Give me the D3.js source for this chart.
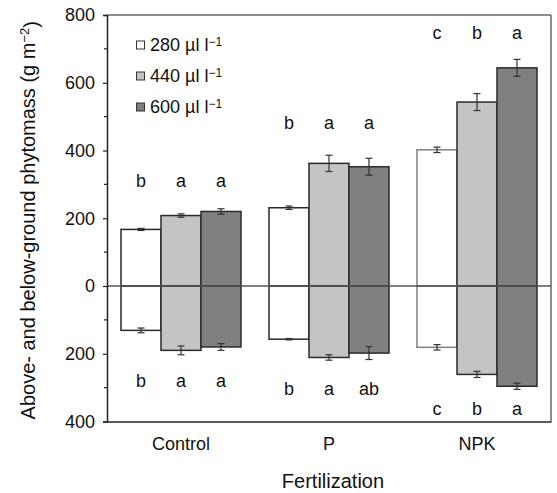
<!DOCTYPE html>
<html>
<head>
<meta charset="utf-8">
<script src="https://cdn.jsdelivr.net/npm/d3@7"></script>
<style>
  body { margin: 0; background: #fff; }
  text { font-family: "Liberation Sans", Arial, sans-serif; fill: #111; }
</style>
</head>
<body>
<div id="chart"></div>
<script>
const groups = ["Control", "P", "NPK"];
const seriesNames = ["280 µl l", "440 µl l", "600 µl l"];

// above-ground (positive) and below-ground (drawn downward) phytomass, g m-2
const above = [[167, 208, 220], [231, 362, 352], [402, 543, 644]];
const aboveErr = [[3, 5, 8], [5, 24, 25], [8, 25, 25]];
const below = [[131, 190, 180], [157, 211, 198], [181, 261, 296]];
const belowErr = [[7, 13, 10], [2, 8, 19], [8, 9, 9]];

const aboveLetters = [["b", "a", "a"], ["b", "a", "a"], ["c", "b", "a"]];
const belowLetters = [["b", "a", "a"], ["b", "a", "ab"], ["c", "b", "a"]];
const aboveLetterY = [312, 483, 747];
const belowLetterY = [279, 302, 361];

const yTicks = [-400, -200, 0, 200, 400, 600, 800];
const yMinor = [-300, -100, 100, 300, 500, 700];

const fills = ["#ffffff", "#c4c4c4", "#808080"];

const W = 557, H = 493;
const margin = { top: 15, right: 6, bottom: 71.5, left: 107 };
const width = W - margin.left - margin.right;
const height = H - margin.top - margin.bottom;

const svg = d3.select("#chart").append("svg")
  .attr("width", W)
  .attr("height", H);

const g = svg.append("g")
  .attr("transform", `translate(${margin.left},${margin.top})`);

let x = d3.scaleBand()
  .domain(groups)
  .range([0, width]);

let xs = d3.scaleBand()
  .domain(d3.range(3))
  .range([(x.bandwidth() - 120) / 2, (x.bandwidth() + 120) / 2]);

let y = d3.scaleLinear()
  .domain([-400, 800])
  .range([height, 0]);

// frame (top/right)
g.append("line").attr("x1", 0).attr("x2", width).attr("y1", 0).attr("y2", 0)
  .attr("stroke", "#666").attr("stroke-width", 1.5);
g.append("line").attr("x1", width).attr("x2", width).attr("y1", 0).attr("y2", height)
  .attr("stroke", "#666").attr("stroke-width", 1.5);

const cells = [];
groups.forEach((grp, i) => {
  for (let j = 0; j < 3; j++) {
    cells.push({ grp: grp, i: i, j: j, up: above[i][j], upE: aboveErr[i][j],
      down: below[i][j], downE: belowErr[i][j] });
  }
});

const barStroke = d => (d.grp === "NPK" && d.j === 0) ? "#808080" : "#2a2a2a";

// above bars
g.selectAll("rect.up").data(cells).enter().append("rect")
  .attr("class", "up")
  .attr("x", d => x(d.grp) + xs(d.j))
  .attr("width", xs.bandwidth())
  .attr("y", d => y(d.up))
  .attr("height", d => y(0) - y(d.up))
  .style("fill", d => fills[d.j])
  .style("stroke", barStroke)
  .style("stroke-width", 1.5);

// below bars
g.selectAll("rect.down").data(cells).enter().append("rect")
  .attr("class", "down")
  .attr("x", d => x(d.grp) + xs(d.j))
  .attr("width", xs.bandwidth())
  .attr("y", y(0))
  .attr("height", d => y(-d.down) - y(0))
  .style("fill", d => fills[d.j])
  .style("stroke", barStroke)
  .style("stroke-width", 1.5);

// zero line
g.append("line").attr("x1", 0).attr("x2", width).attr("y1", y(0)).attr("y2", y(0))
  .attr("stroke", "#555").attr("stroke-width", 1.5);

// error bars
function errBars(vals) {
  const eg = g.append("g").attr("stroke", "#333").attr("stroke-width", 1.2);
  cells.forEach(d => {
    const cx = x(d.grp) + xs(d.j) + xs.bandwidth() / 2;
    const v = vals(d);
    eg.append("line").attr("x1", cx).attr("x2", cx).attr("y1", y(v[0] - v[1])).attr("y2", y(v[0] + v[1]));
    eg.append("line").attr("x1", cx - 3.5).attr("x2", cx + 3.5).attr("y1", y(v[0] - v[1])).attr("y2", y(v[0] - v[1]));
    eg.append("line").attr("x1", cx - 3.5).attr("x2", cx + 3.5).attr("y1", y(v[0] + v[1])).attr("y2", y(v[0] + v[1]));
  });
}
errBars(d => [d.up, d.upE]);
errBars(d => [-d.down, d.downE]);

// significance letters
cells.forEach(d => {
  const cx = x(d.grp) + xs(d.j) + xs.bandwidth() / 2;
  g.append("text").attr("x", cx).attr("y", y(aboveLetterY[d.i]))
    .attr("text-anchor", "middle").attr("dy", "0.35em")
    .style("font-size", "18px").text(aboveLetters[d.i][d.j]);
  g.append("text").attr("x", cx).attr("y", y(-belowLetterY[d.i]))
    .attr("text-anchor", "middle").attr("dy", "0.35em")
    .style("font-size", "18px").text(belowLetters[d.i][d.j]);
});

// y axis
const yAxis = g.append("g")
  .call(d3.axisLeft(y).tickValues(yTicks).tickSize(4).tickPadding(8).tickFormat(d => Math.abs(d)));
yAxis.select(".domain").attr("stroke", "#222").attr("stroke-width", 1.5);
yAxis.selectAll(".tick line").attr("stroke", "#222").attr("stroke-width", 1.2);
yAxis.selectAll(".tick text").style("font-size", "18px").style("font-family", "Liberation Sans, Arial, sans-serif").attr("fill", "#111");
g.append("g").selectAll("line").data(yMinor).enter().append("line")
  .attr("x1", -3).attr("x2", 0).attr("y1", d => y(d)).attr("y2", d => y(d))
  .attr("stroke", "#222").attr("stroke-width", 1.2);

// x axis
const xAxis = g.append("g")
  .attr("transform", `translate(0,${height})`)
  .call(d3.axisBottom(x).tickSize(0).tickPadding(16));
xAxis.select(".domain").attr("stroke", "#222").attr("stroke-width", 1.5);
xAxis.selectAll(".tick text").style("font-size", "18px").style("font-family", "Liberation Sans, Arial, sans-serif").attr("fill", "#111");

// axis titles
g.append("text")
  .attr("x", width / 2 + 4).attr("y", height + 59).attr("dy", "0.35em")
  .attr("text-anchor", "middle").style("font-size", "20px")
  .text("Fertilization");

const yt = svg.append("text")
  .attr("transform", `translate(35,${margin.top + height / 2 + 2}) rotate(-90)`)
  .attr("text-anchor", "middle").style("font-size", "20px");
yt.append("tspan").text("Above- and below-ground phytomass (g m");
yt.append("tspan").attr("dy", "-0.45em").style("font-size", "13px").text("−2");
yt.append("tspan").attr("dy", "0.45em").text(")");

// legend
const legY = [45, 76, 107];
const leg = svg.append("g");
seriesNames.forEach((s, j) => {
  leg.append("rect").attr("x", 136.5).attr("y", legY[j] - 4).attr("width", 8).attr("height", 8)
    .style("fill", fills[j]).style("stroke", "#333").style("stroke-width", 1);
  const t = leg.append("text").attr("x", 150).attr("y", legY[j]).attr("dy", "0.35em")
    .style("font-size", "18px");
  t.append("tspan").text(s);
  t.append("tspan").attr("dy", "-0.45em").style("font-size", "12px").text("−1");
});
</script>
</body>
</html>
